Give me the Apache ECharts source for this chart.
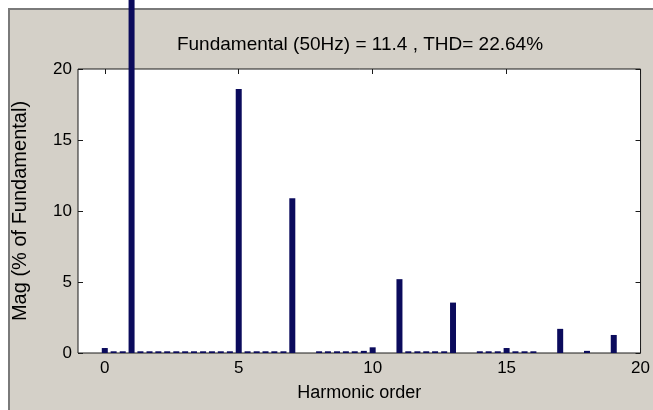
<!DOCTYPE html>
<html>
<head>
<meta charset="utf-8">
<script src="https://cdn.jsdelivr.net/npm/echarts@6/dist/echarts.min.js"></script>
<style>html,body{margin:0;padding:0;background:#fff}#c{width:653px;height:410px}</style>
</head>
<body>
<div id="c"></div>
<script>
// Harmonic order positions (1/3-harmonic resolution) and magnitudes (% of fundamental)
const harmonicOrder = [0, 0.33, 0.67, 1, 1.33, 1.67, 2, 2.33, 2.67, 3, 3.33, 3.67, 4, 4.33, 4.67, 5,
  5.33, 5.67, 6, 6.33, 6.67, 7, 8, 8.33, 8.67, 9, 9.33, 9.67, 10, 11,
  11.33, 11.67, 12, 12.33, 12.67, 13, 14, 14.33, 14.67, 15, 15.33, 15.67, 16, 17, 18, 19];
const magnitude = [0.35, 0.12, 0.12, 100, 0.12, 0.12, 0.12, 0.12, 0.12, 0.12, 0.12, 0.12, 0.12, 0.12, 0.12, 18.6,
  0.12, 0.12, 0.12, 0.12, 0.12, 10.9, 0.12, 0.12, 0.12, 0.12, 0.12, 0.15, 0.4, 5.2,
  0.12, 0.12, 0.12, 0.12, 0.12, 3.55, 0.12, 0.12, 0.12, 0.35, 0.12, 0.12, 0.12, 1.7, 0.15, 1.27];
const xTicks = [0, 5, 10, 15, 20];
const yTicks = [0, 5, 10, 15, 20];
const titleText = 'Fundamental (50Hz) = 11.4 , THD= 22.64%';
const xName = 'Harmonic order';
const yName = 'Mag (% of Fundamental)';

const FONT = 'Liberation Sans';
const chart = echarts.init(document.getElementById('c'), null, {renderer: 'canvas'});
const seriesData = harmonicOrder.map((x, i) => [x, magnitude[i]]);

const tickStyle = {color: '#1a1a1a', width: 1};

chart.setOption({
  animation: false,
  backgroundColor: '#ffffff',
  graphic: [
    {type: 'rect', z: -100, shape: {x: 9, y: 9, width: 660, height: 420},
     style: {fill: '#d4d0c8', stroke: '#7a7a7a', lineWidth: 2}},
    {type: 'text', z: 10, x: 360, y: 45,
     style: {text: titleText, font: '19px "' + FONT + '"', fill: '#000', align: 'center', verticalAlign: 'middle'}}
  ],
  grid: {left: 78, top: 69, width: 567, height: 284, show: true, backgroundColor: '#ffffff',
         borderColor: '#1a1a1a', borderWidth: 1, containLabel: false},
  xAxis: [
    {
      type: 'value', min: -1, max: 20, position: 'bottom',
      axisLine: {show: false, onZero: false}, splitLine: {show: false},
      name: xName, nameLocation: 'middle', nameGap: 31,
      nameTextStyle: {fontFamily: FONT, fontSize: 18, color: '#000'},
      axisTick: {show: true, inside: true, length: 5, customValues: xTicks, lineStyle: tickStyle},
      axisLabel: {show: true, customValues: xTicks, fontFamily: FONT, fontSize: 17, color: '#000', margin: 7}
    },
    {
      type: 'value', min: -1, max: 20, position: 'top',
      axisLine: {show: false, onZero: false}, splitLine: {show: false},
      axisTick: {show: true, inside: true, length: 5, customValues: xTicks, lineStyle: tickStyle},
      axisLabel: {show: false}
    }
  ],
  yAxis: [
    {
      type: 'value', min: 0, max: 20, position: 'left',
      axisLine: {show: false, onZero: false}, splitLine: {show: false},
      name: yName, nameLocation: 'middle', nameGap: 48, nameRotate: 90,
      nameTextStyle: {fontFamily: FONT, fontSize: 20, color: '#000'},
      axisTick: {show: true, inside: true, length: 5, customValues: yTicks, lineStyle: tickStyle},
      axisLabel: {show: true, customValues: yTicks, fontFamily: FONT, fontSize: 17, color: '#000', margin: 6}
    },
    {
      type: 'value', min: 0, max: 20, position: 'right',
      axisLine: {show: false, onZero: false}, splitLine: {show: false},
      axisTick: {show: true, inside: true, length: 5, customValues: yTicks, lineStyle: tickStyle},
      axisLabel: {show: false}
    }
  ],
  series: [{
    type: 'bar',
    xAxisIndex: 0, yAxisIndex: 0,
    data: seriesData,
    barWidth: 6,
    clip: false,
    z: 20,
    itemStyle: {color: '#0b0b5c'}
  }]
});
</script>
</body>
</html>
